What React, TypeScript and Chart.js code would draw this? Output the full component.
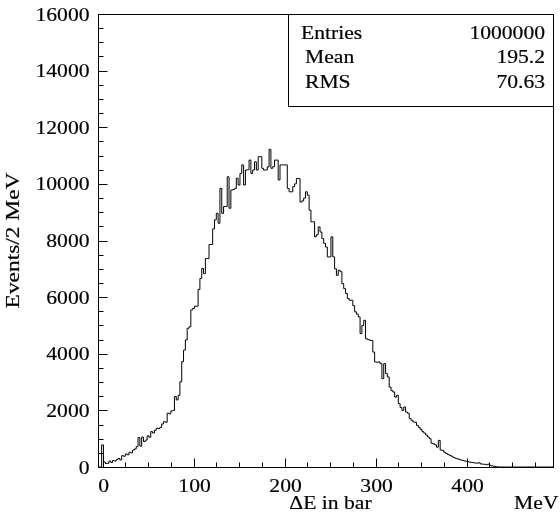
import React, { useEffect, useRef } from "react";
import { Chart, registerables } from "chart.js";

Chart.register(...registerables);

// ---- data (2 MeV bins, first bin centred on 0 MeV) ----
const BIN_WIDTH = 2;
const FIRST_CENTER = 0;
const X_MIN = -5;
const X_MAX = 495;
const Y_MIN = 0;
const Y_MAX = 16000;

const counts: number[] = [
  780, 180, 125, 130, 210, 160, 230, 210, 260, 300,
  250, 400, 380, 460, 430, 520, 500, 600, 640, 720,
  1040, 740, 1060, 900, 950, 1100, 1050, 1250, 1200, 1300,
  1370, 1360, 1400, 1520, 1600, 1580, 1900, 1880, 1980, 2000,
  2490, 2370, 2530, 3010, 3720, 4130, 4490, 4900, 4950, 5550,
  5600, 5680, 5680, 6270, 6660, 7010, 6830, 7360, 7360, 7860,
  7860, 8410, 8730, 8960, 8610, 9840, 8960, 9200, 9200, 10250,
  9140, 9780, 9800, 9840, 10200, 9960, 10370, 10670, 9960, 10490,
  10500, 10840, 10370, 10490, 10780, 10490, 10960, 10960, 10550, 10490,
  10490, 10600, 11220, 10550, 10610, 10840, 10840, 10140, 10670, 10670,
  10670, 10670, 9840, 9720, 9720, 9900, 10000, 10190, 10190, 9360,
  9400, 9500, 9720, 9600, 9070, 8660, 8660, 8130, 8200, 8480,
  8300, 8070, 7900, 7770, 7420, 7420, 8130, 7420, 7000, 6770,
  6950, 6900, 6480, 6300, 6130, 5950, 5890, 5890, 5700, 5480,
  5400, 5300, 4710, 5000, 5180, 4530, 4500, 4480, 4470, 4060,
  3710, 3700, 3710, 3650, 3120, 3650, 3300, 3180, 2820, 2700,
  2650, 2470, 2530, 2240, 2100, 2000, 2120, 1940, 1900, 1710,
  1650, 1590, 1580, 1470, 1400, 1330, 1250, 1200, 1130, 1060,
  1000, 840, 820, 780, 700, 940, 600, 590, 520, 480,
  440, 410, 380, 340, 310, 290, 270, 250, 230, 215,
  200, 185, 170, 160, 150, 140, 135, 150, 110, 100,
  95, 80, 100, 60, 40, 30, 15, 5,
];

const xMajorTicks = [0, 100, 200, 300, 400];
const xMinorStep = 25;
const yMajorTicks = [0, 2000, 4000, 6000, 8000, 10000, 12000, 14000, 16000];
const yMinorStep = 500;

const xTitle = "\u0394E in bar";
const xUnit = "MeV";
const yTitle = "Events/2 MeV";

const statLabels = ["Entries", " Mean", " RMS"];
const statValues = ["1000000", "195.2", "70.63"];

// ---- styling ----
const FONT = '18px "Liberation Serif", "Times New Roman", serif';
const STRETCH = 1.2;

function buildPoints() {
  const pts: { x: number; y: number }[] = [];
  const firstEdge = FIRST_CENTER - BIN_WIDTH / 2;
  for (let e = X_MIN; e < firstEdge - 1e-9; e += BIN_WIDTH) pts.push({ x: e, y: 0 });
  counts.forEach((c, i) => pts.push({ x: firstEdge + i * BIN_WIDTH, y: c }));
  let e = firstEdge + counts.length * BIN_WIDTH;
  for (; e < X_MAX - 1e-9; e += BIN_WIDTH) pts.push({ x: e, y: 0 });
  pts.push({ x: X_MAX, y: 0 });
  return pts;
}

function drawText(
  ctx: CanvasRenderingContext2D,
  text: string,
  x: number,
  y: number,
  align: CanvasTextAlign,
  rotate = 0,
  stretch = STRETCH
) {
  ctx.save();
  ctx.translate(x, y);
  if (rotate) ctx.rotate(rotate);
  ctx.scale(stretch, 1);
  ctx.textAlign = align;
  ctx.textBaseline = "alphabetic";
  ctx.fillText(text, 0, 0);
  ctx.lineWidth = 0.18;
  ctx.strokeText(text, 0, 0);
  ctx.restore();
}

const rootStyle = {
  id: "rootStyle",
  afterDatasetsDraw(chart: any) {
    const { ctx, chartArea: a, scales } = chart;
    const xs = scales.x;
    const ys = scales.y;
    const L = Math.round(a.left) + 0.5;
    const R = Math.round(a.right) + 0.5;
    const T = Math.round(a.top) + 0.5;
    const B = Math.round(a.bottom) + 0.5;
    ctx.save();
    ctx.strokeStyle = "#000";
    ctx.fillStyle = "#000";
    ctx.lineWidth = 1;

    // frame
    ctx.strokeRect(L, T, R - L, B - T);

    // y ticks
    ctx.beginPath();
    for (let v = Y_MIN; v <= Y_MAX + 1e-9; v += yMinorStep) {
      const py = Math.round(ys.getPixelForValue(v)) + 0.5;
      const len = yMajorTicks.includes(v) ? 9 : 5;
      ctx.moveTo(L, py);
      ctx.lineTo(L + len, py);
    }
    // x ticks
    for (let v = 0; v <= X_MAX; v += xMinorStep) {
      const px = Math.round(xs.getPixelForValue(v)) + 0.5;
      const len = xMajorTicks.includes(v) ? 9 : 5;
      ctx.moveTo(px, B);
      ctx.lineTo(px, B - len);
    }
    ctx.stroke();

    ctx.font = FONT;
    // y labels
    yMajorTicks.forEach((v) => {
      const py = ys.getPixelForValue(v);
      drawText(ctx, String(v), 89.5, py + 6.5, "right");
    });
    // x labels
    xMajorTicks.forEach((v) => {
      const px = xs.getPixelForValue(v);
      drawText(ctx, String(v), px + 1, 492, "center");
    });
    // axis titles
    drawText(ctx, xTitle, 330.5, 508.5, "center");
    drawText(ctx, xUnit, 558.5, 508.5, "right");
    drawText(ctx, yTitle, 19, (a.top + a.bottom) / 2, "center", -Math.PI / 2, 1.3);

    // stats box
    const boxL = 288.5;
    const boxB = 106.5;
    ctx.fillStyle = "#fff";
    ctx.fillRect(boxL, T, R - boxL, boxB - T);
    ctx.lineWidth = 1;
    ctx.strokeRect(boxL, T, R - boxL, boxB - T);
    ctx.fillStyle = "#000";
    const baselines = [38.5, 63, 87.5];
    statLabels.forEach((s, i) => {
      drawText(ctx, s.trim(), s.startsWith(" ") ? 305 : 301, baselines[i], "left");
      drawText(ctx, statValues[i], 545, baselines[i], "right");
    });
    ctx.restore();
  },
};

export default function App() {
  const ref = useRef<HTMLCanvasElement | null>(null);
  useEffect(() => {
    document.body.style.margin = "0";
    const canvas = ref.current;
    if (!canvas) return;
    const chart = new Chart(canvas, {
      type: "line",
      data: {
        datasets: [
          {
            data: buildPoints(),
            borderColor: "#000",
            borderWidth: 1,
            pointRadius: 0,
            stepped: true,
            fill: false,
          },
        ],
      },
      options: {
        animation: false,
        responsive: false,
        events: [],
        layout: { padding: { left: 98, top: 14, right: 7, bottom: 48 } },
        scales: {
          x: { type: "linear", min: X_MIN, max: X_MAX, display: false },
          y: { type: "linear", min: Y_MIN, max: Y_MAX, display: false },
        },
        plugins: { legend: { display: false }, tooltip: { enabled: false } },
      },
      plugins: [rootStyle],
    } as any);
    return () => chart.destroy();
  }, []);
  return (
    <div style={{ position: "fixed", left: 0, top: 0, width: 560, height: 515, background: "#fff" }}>
      <canvas ref={ref} width={560} height={515} style={{ width: 560, height: 515 }} />
    </div>
  );
}
